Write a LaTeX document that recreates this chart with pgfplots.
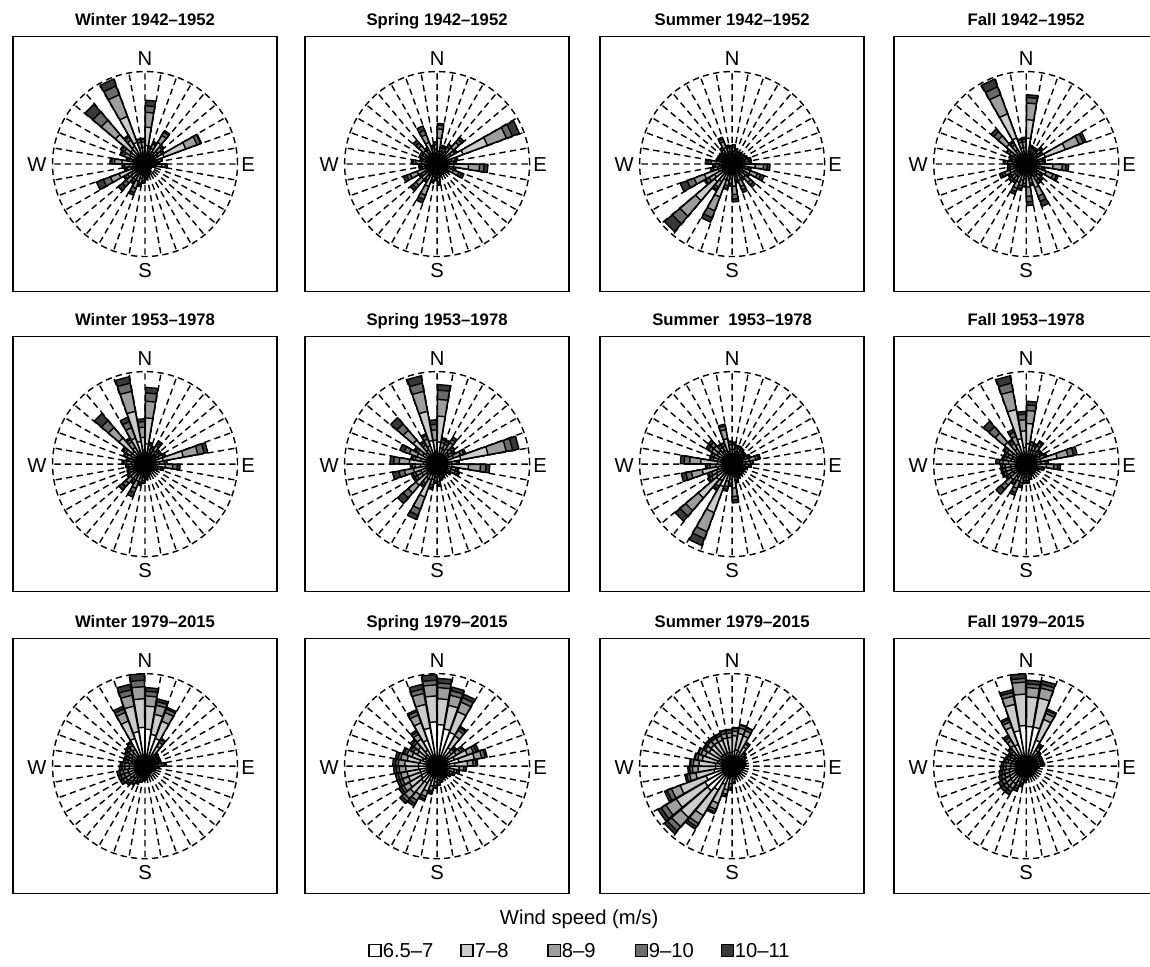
\documentclass[border=0pt]{standalone}
\usepackage{pgfplots}
\pgfplotsset{compat=1.18}
\usepackage{pgfplotstable}
\usepgfplotslibrary{polar}
\usepackage{fontspec}
\setmainfont{Liberation Sans}

\definecolor{cA}{gray}{1.00}
\definecolor{cB}{gray}{0.80}
\definecolor{cC}{gray}{0.62}
\definecolor{cD}{gray}{0.42}
\definecolor{cE}{gray}{0.22}

% ---- Winter 1942-1952
\pgfplotstableread{
d a b c e f
5 2.0 2.0 1.6 0.7 0.6
15 0.8 0.6 0.4 0.2 0
25 1.0 0.8 0.5 0.2 0.1
35 1.5 1.2 0.9 0.4 0.2
45 1.0 0.8 0.6 0.2 0.1
55 0.9 0.7 0.5 0.2 0.1
65 2.2 2.5 1.3 0.4 0.1
75 0.8 0.6 0.4 0.1 0
85 0.7 0.5 0.3 0.1 0
95 1.0 0.8 0.4 0.2 0
105 0.5 0.4 0.2 0 0
115 0.4 0.3 0.1 0 0
125 0.4 0.3 0.1 0 0
135 0.4 0.3 0.1 0 0
145 0.5 0.3 0.2 0 0
155 0.5 0.4 0.2 0.1 0
165 0.6 0.4 0.3 0.1 0
175 0.7 0.5 0.3 0.1 0.1
185 0.8 0.6 0.4 0.2 0.1
195 0.9 0.7 0.5 0.2 0.2
205 1.0 1.0 0.8 0.5 0.3
215 0.8 0.7 0.5 0.3 0.2
225 1.0 1.0 0.7 0.5 0.6
235 0.9 0.8 0.5 0.3 0.2
245 1.5 1.5 1.0 0.8 0.8
255 0.8 0.7 0.5 0.2 0.1
265 0.9 0.8 0.5 0.2 0.1
275 1.2 1.3 0.8 0.3 0.2
285 0.8 0.6 0.4 0.2 0.1
295 1.0 0.8 0.6 0.3 0.2
305 1.0 0.9 0.7 0.3 0.2
315 2.0 2.2 2.0 1.2 1.1
325 1.2 1.0 0.8 0.4 0.2
335 2.5 3.0 2.5 1.0 0.8
345 1.0 0.8 0.6 0.3 0.1
355 1.0 0.8 0.6 0.3 0.1
}\tWa
% ---- Spring 1942-1952
\pgfplotstableread{
d a b c e f
5 1.4 1.4 1.0 0.4 0.2
15 0.8 0.6 0.4 0.2 0.1
25 0.8 0.6 0.4 0.2 0.1
35 0.9 0.7 0.5 0.3 0.1
45 1.2 1.1 0.8 0.4 0.3
55 0.9 0.8 0.5 0.2 0.1
65 3.0 2.8 2.2 0.7 0.8
75 0.9 0.7 0.4 0.2 0.1
85 0.8 0.6 0.4 0.2 0.1
95 1.8 1.6 1.2 0.5 0.4
105 0.8 0.6 0.4 0.2 0.1
115 1.0 0.9 0.6 0.3 0.3
125 0.6 0.5 0.3 0.1 0
135 0.5 0.4 0.2 0.1 0
145 0.5 0.4 0.2 0.1 0
155 0.5 0.4 0.2 0.1 0
165 0.6 0.4 0.3 0.1 0
175 0.8 0.7 0.4 0.2 0.2
185 0.7 0.5 0.3 0.2 0.1
195 0.8 0.6 0.4 0.2 0.1
205 1.3 1.3 1.0 0.5 0.4
215 0.8 0.7 0.5 0.2 0.1
225 1.1 1.1 0.8 0.4 0.4
235 0.8 0.7 0.5 0.2 0.1
245 1.2 1.1 0.8 0.4 0.4
255 0.7 0.6 0.4 0.2 0.1
265 0.7 0.6 0.4 0.2 0.1
275 0.9 0.8 0.6 0.3 0.2
285 0.7 0.5 0.4 0.2 0.1
295 0.8 0.6 0.4 0.2 0.1
305 0.8 0.6 0.4 0.2 0.1
315 1.0 0.9 0.7 0.4 0.4
325 0.8 0.6 0.4 0.2 0.1
335 1.3 1.2 0.9 0.5 0.5
345 0.8 0.6 0.4 0.2 0.1
355 0.9 0.7 0.5 0.2 0.1
}\tSpa
% ---- Summer 1942-1952
\pgfplotstableread{
d a b c e f
5 0.8 0.6 0.4 0.2 0.1
15 0.7 0.5 0.3 0.1 0.1
25 0.6 0.5 0.3 0.1 0
35 0.6 0.5 0.3 0.1 0
45 0.6 0.5 0.3 0.1 0
55 0.7 0.5 0.3 0.1 0
65 0.7 0.6 0.3 0.1 0.1
75 0.8 0.6 0.4 0.2 0.1
85 0.8 0.6 0.4 0.2 0.1
95 1.3 1.2 0.9 0.4 0.3
105 0.8 0.6 0.4 0.2 0.1
115 1.1 1.0 0.8 0.4 0.4
125 0.8 0.7 0.4 0.2 0.1
135 1.0 0.9 0.7 0.4 0.3
145 0.8 0.6 0.4 0.2 0.1
155 1.0 0.9 0.7 0.4 0.3
165 0.8 0.6 0.4 0.2 0.1
175 1.2 1.2 0.9 0.5 0.3
185 0.9 0.7 0.5 0.2 0.1
195 1.0 0.8 0.6 0.3 0.1
205 1.8 2.0 1.6 0.8 0.5
215 1.2 1.0 0.7 0.3 0.2
225 2.5 2.7 2.2 1.1 1.1
235 1.2 1.0 0.7 0.4 0.2
245 1.6 1.6 1.2 0.8 0.8
255 0.9 0.7 0.5 0.2 0.1
265 0.8 0.6 0.4 0.2 0.1
275 0.9 0.8 0.6 0.3 0.3
285 0.7 0.5 0.3 0.2 0.1
295 0.7 0.5 0.3 0.1 0.1
305 0.7 0.5 0.3 0.1 0.1
315 0.7 0.5 0.3 0.1 0.1
325 0.8 0.6 0.4 0.2 0.1
335 1.0 0.9 0.7 0.3 0.2
345 0.8 0.6 0.4 0.2 0.1
355 0.7 0.6 0.4 0.2 0.1
}\tSua
% ---- Fall 1942-1952
\pgfplotstableread{
d a b c e f
5 2.8 2.0 1.8 0.6 0.3
15 0.8 0.6 0.4 0.2 0.1
25 0.7 0.6 0.4 0.2 0.1
35 0.7 0.6 0.4 0.2 0.1
45 0.9 0.7 0.5 0.2 0.1
55 0.8 0.6 0.4 0.2 0.1
65 2.2 2.3 1.6 0.5 0.3
75 0.8 0.6 0.4 0.2 0.1
85 0.8 0.6 0.4 0.2 0.1
95 1.5 1.4 1.0 0.4 0.3
105 0.8 0.6 0.4 0.2 0.1
115 1.2 1.1 0.8 0.4 0.2
125 0.8 0.6 0.4 0.2 0.1
135 0.9 0.7 0.5 0.2 0.1
145 0.9 0.7 0.5 0.3 0.1
155 1.4 1.3 1.0 0.6 0.6
165 0.9 0.7 0.5 0.2 0.1
175 1.3 1.2 1.0 0.6 0.4
185 0.9 0.7 0.5 0.3 0.1
195 1.0 0.8 0.6 0.3 0.2
205 1.1 1.0 0.7 0.4 0.3
215 0.9 0.7 0.5 0.2 0.1
225 0.9 0.7 0.5 0.3 0.1
235 0.8 0.7 0.5 0.2 0.1
245 1.0 0.9 0.6 0.3 0.3
255 0.8 0.6 0.4 0.2 0.1
265 0.7 0.6 0.4 0.2 0.1
275 0.8 0.7 0.5 0.3 0.2
285 0.7 0.5 0.4 0.2 0.1
295 0.7 0.6 0.4 0.2 0.1
305 0.9 0.7 0.5 0.3 0.1
315 1.4 1.4 1.2 0.6 0.4
325 1.0 0.8 0.6 0.3 0.2
335 3.0 2.8 2.2 0.9 0.9
345 1.0 0.8 0.6 0.3 0.1
355 1.0 0.8 0.6 0.3 0.2
}\tFa
% ---- Winter 1953-1978
\pgfplotstableread{
d a b c e f
5 2.2 2.8 1.8 0.9 0.6
15 0.9 0.7 0.5 0.2 0.1
25 0.8 0.6 0.4 0.2 0.1
35 0.9 0.8 0.6 0.3 0.3
45 0.8 0.6 0.4 0.2 0.1
55 0.8 0.6 0.4 0.2 0.1
65 0.9 0.7 0.5 0.2 0.1
75 2.0 2.2 1.6 0.7 0.4
85 0.9 0.7 0.5 0.2 0.1
95 1.1 1.1 0.8 0.5 0.3
105 0.8 0.6 0.4 0.2 0.1
115 0.6 0.5 0.3 0.1 0
125 0.5 0.4 0.2 0.1 0
135 0.5 0.3 0.2 0 0
145 0.5 0.3 0.2 0 0
155 0.5 0.4 0.2 0.1 0
165 0.6 0.4 0.3 0.1 0
175 0.7 0.5 0.3 0.1 0.1
185 0.8 0.6 0.4 0.2 0.1
195 0.8 0.7 0.5 0.2 0.2
205 1.0 1.0 0.8 0.5 0.5
215 0.8 0.7 0.5 0.3 0.2
225 1.0 1.0 0.7 0.5 0.5
235 0.8 0.7 0.5 0.2 0.1
245 0.8 0.6 0.4 0.2 0.1
255 0.7 0.6 0.4 0.2 0.1
265 0.8 0.6 0.4 0.2 0.1
275 0.8 0.7 0.5 0.3 0.2
285 0.8 0.6 0.4 0.2 0.1
295 0.9 0.7 0.5 0.3 0.1
305 1.0 0.8 0.6 0.3 0.2
315 1.8 1.9 1.5 1.0 1.0
325 1.1 1.0 0.7 0.3 0.2
335 1.5 1.5 1.2 0.7 0.5
345 2.5 3.3 2.2 0.9 0.7
355 1.5 1.4 1.1 0.6 0.3
}\tWb
% ---- Spring 1953-1978
\pgfplotstableread{
d a b c e f
5 2.4 2.8 1.8 1.0 0.6
15 1.0 0.8 0.6 0.3 0.2
25 0.9 0.8 0.6 0.3 0.2
35 1.0 0.9 0.8 0.4 0.3
45 0.9 0.7 0.5 0.3 0.1
55 0.8 0.7 0.5 0.2 0.1
65 1.0 0.9 0.8 0.4 0.2
75 2.6 3.0 2.0 0.7 0.7
85 0.9 0.7 0.5 0.2 0.1
95 1.6 1.8 1.3 0.6 0.4
105 0.9 0.7 0.5 0.2 0.1
115 0.9 0.7 0.5 0.3 0.2
125 0.7 0.5 0.3 0.2 0.1
135 0.6 0.4 0.3 0.1 0
145 0.6 0.4 0.3 0.1 0
155 0.6 0.5 0.3 0.1 0.1
165 0.7 0.5 0.3 0.2 0.1
175 0.8 0.6 0.5 0.3 0.2
185 0.8 0.6 0.4 0.2 0.1
195 0.9 0.8 0.6 0.3 0.2
205 1.8 2.0 1.4 0.7 0.5
215 1.0 0.8 0.6 0.3 0.2
225 1.5 1.5 1.1 0.7 0.8
235 1.0 0.9 0.6 0.3 0.2
245 1.0 0.9 0.6 0.3 0.2
255 1.3 1.3 1.0 0.6 0.7
265 1.0 0.8 0.6 0.3 0.2
275 1.5 1.5 1.1 0.6 0.4
285 1.0 0.8 0.6 0.3 0.2
295 1.2 1.1 0.9 0.6 0.5
305 1.0 0.8 0.6 0.3 0.2
315 1.6 1.8 1.4 0.9 0.9
325 1.0 0.8 0.6 0.3 0.2
335 1.1 1.0 0.8 0.4 0.2
345 2.6 3.2 2.2 0.9 0.8
355 1.3 1.3 1.1 0.6 0.5
}\tSpb
% ---- Summer 1953-1978
\pgfplotstableread{
d a b c e f
5 0.9 0.7 0.5 0.2 0.1
15 0.8 0.6 0.4 0.2 0.1
25 0.8 0.6 0.4 0.2 0.1
35 0.7 0.6 0.4 0.2 0.1
45 0.7 0.5 0.3 0.2 0.1
55 0.7 0.5 0.3 0.2 0.1
65 0.8 0.6 0.4 0.2 0.1
75 1.0 0.9 0.7 0.3 0.2
85 0.8 0.7 0.5 0.2 0.1
95 0.8 0.6 0.4 0.2 0.1
105 0.7 0.5 0.3 0.1 0.1
115 0.6 0.5 0.3 0.1 0
125 0.6 0.5 0.3 0.1 0
135 0.6 0.5 0.3 0.1 0
145 0.6 0.5 0.3 0.1 0
155 0.7 0.5 0.3 0.1 0.1
165 0.8 0.6 0.4 0.2 0.1
175 1.3 1.3 0.9 0.4 0.3
185 0.9 0.7 0.5 0.2 0.1
195 1.0 0.9 0.6 0.3 0.2
205 2.6 3.0 2.2 0.8 0.8
215 1.1 1.0 0.7 0.3 0.2
225 2.2 2.6 1.8 0.8 0.7
235 1.1 0.9 0.6 0.3 0.2
245 1.0 0.8 0.6 0.3 0.2
255 1.6 1.7 1.2 0.6 0.5
265 1.0 0.8 0.6 0.3 0.2
275 1.6 1.8 1.2 0.6 0.4
285 0.9 0.7 0.5 0.3 0.1
295 0.9 0.7 0.5 0.3 0.1
305 1.0 0.9 0.7 0.4 0.3
315 1.0 0.9 0.7 0.5 0.3
325 0.9 0.7 0.5 0.3 0.1
335 0.9 0.7 0.5 0.3 0.1
345 1.4 1.4 1.0 0.4 0.2
355 0.9 0.7 0.5 0.3 0.1
}\tSub
% ---- Fall 1953-1978
\pgfplotstableread{
d a b c e f
5 2.2 2.2 1.4 0.6 0.4
15 0.9 0.7 0.5 0.3 0.1
25 0.9 0.7 0.5 0.2 0.1
35 0.9 0.8 0.6 0.4 0.2
45 0.8 0.6 0.4 0.2 0.1
55 0.8 0.6 0.4 0.2 0.1
65 0.9 0.7 0.5 0.2 0.1
75 1.6 1.8 1.2 0.6 0.4
85 0.9 0.7 0.5 0.2 0.1
95 1.1 1.1 0.8 0.4 0.3
105 0.7 0.6 0.4 0.2 0.1
115 0.6 0.5 0.3 0.1 0
125 0.5 0.4 0.2 0.1 0
135 0.5 0.4 0.2 0.1 0
145 0.5 0.4 0.2 0.1 0
155 0.6 0.4 0.3 0.1 0
165 0.7 0.5 0.3 0.1 0.1
175 0.8 0.6 0.4 0.2 0.1
185 0.8 0.6 0.4 0.2 0.1
195 0.9 0.7 0.5 0.3 0.2
205 1.0 1.0 0.8 0.5 0.3
215 0.9 0.7 0.5 0.3 0.2
225 1.1 1.1 0.8 0.6 0.7
235 0.9 0.7 0.5 0.3 0.2
245 0.9 0.8 0.6 0.3 0.2
255 0.9 0.8 0.6 0.3 0.2
265 0.9 0.8 0.6 0.3 0.2
275 1.0 0.9 0.6 0.4 0.4
285 0.9 0.8 0.5 0.3 0.2
295 0.9 0.7 0.5 0.3 0.2
305 1.0 0.8 0.6 0.3 0.2
315 1.5 1.6 1.3 0.9 0.8
325 1.0 0.9 0.7 0.3 0.2
335 1.2 1.1 0.9 0.5 0.3
345 2.8 3.2 2.0 0.9 0.8
355 1.8 1.8 1.2 0.6 0.3
}\tFb
% ---- Winter 1979-2015
\pgfplotstableread{
d a b c e f
5 4.0 2.5 1.1 0.5 0.4
15 3.5 2.2 1.0 0.4 0.3
25 3.2 2.0 1.0 0.4 0.2
35 1.5 1.0 0.5 0.3 0.2
45 0.8 0.5 0.3 0.2 0.1
55 0.7 0.5 0.3 0.2 0.1
65 0.7 0.5 0.3 0.2 0.1
75 0.7 0.5 0.3 0.2 0.1
85 0.8 0.6 0.4 0.3 0.2
95 0.6 0.4 0.3 0.2 0.1
105 0.5 0.3 0.2 0.1 0.1
115 0.4 0.3 0.2 0.1 0.1
125 0.4 0.2 0.2 0.1 0.1
135 0.4 0.2 0.2 0.1 0.1
145 0.4 0.2 0.2 0.1 0.1
155 0.4 0.3 0.2 0.1 0.1
165 0.5 0.3 0.2 0.1 0.1
175 0.5 0.4 0.3 0.2 0.1
185 0.6 0.4 0.3 0.2 0.1
195 0.7 0.5 0.3 0.2 0.1
205 0.8 0.5 0.4 0.2 0.2
215 0.9 0.6 0.4 0.3 0.2
225 1.0 0.7 0.5 0.3 0.2
235 1.1 0.8 0.5 0.4 0.3
245 1.1 0.8 0.5 0.4 0.3
255 1.1 0.8 0.5 0.4 0.3
265 1.0 0.7 0.5 0.3 0.3
275 1.0 0.7 0.5 0.3 0.2
285 0.9 0.6 0.4 0.3 0.2
295 0.9 0.6 0.4 0.3 0.2
305 1.0 0.7 0.4 0.3 0.2
315 1.1 0.7 0.5 0.3 0.2
325 1.3 0.8 0.5 0.3 0.2
335 3.2 2.0 1.0 0.4 0.3
345 3.8 2.8 1.2 0.6 0.6
355 4.2 3.1 1.3 0.7 0.7
}\tWc
% ---- Spring 1979-2015
\pgfplotstableread{
d a b c e f
5 4.5 2.8 1.2 0.5 0.5
15 4.1 2.6 1.1 0.5 0.4
25 3.9 2.4 1.1 0.5 0.4
35 2.3 1.5 0.7 0.3 0.2
45 1.2 0.8 0.4 0.2 0.2
55 1.4 1.0 0.5 0.3 0.2
65 2.0 1.5 0.7 0.3 0.3
75 2.4 1.7 0.8 0.4 0.2
85 1.9 1.4 0.6 0.3 0.2
95 1.4 1.0 0.5 0.2 0.1
105 1.1 0.8 0.3 0.2 0.1
115 0.9 0.6 0.3 0.2 0.1
125 0.8 0.5 0.3 0.1 0.1
135 0.7 0.4 0.2 0.1 0.1
145 0.7 0.4 0.2 0.1 0.1
155 0.7 0.5 0.2 0.1 0.1
165 0.8 0.5 0.3 0.1 0.1
175 0.9 0.6 0.3 0.2 0.1
185 1.0 0.7 0.4 0.2 0.1
195 1.3 0.9 0.5 0.2 0.2
205 1.7 1.2 0.6 0.3 0.2
215 2.1 1.5 0.7 0.4 0.3
225 2.2 1.6 0.8 0.4 0.3
235 2.0 1.5 0.7 0.3 0.3
245 1.9 1.4 0.7 0.3 0.3
255 1.9 1.4 0.7 0.3 0.3
265 2.0 1.4 0.7 0.3 0.3
275 2.0 1.5 0.7 0.3 0.3
285 1.9 1.4 0.7 0.3 0.3
295 1.7 1.2 0.6 0.3 0.2
305 1.5 1.0 0.5 0.3 0.2
315 1.6 1.1 0.6 0.3 0.2
325 2.0 1.4 0.6 0.3 0.2
335 3.0 2.0 0.9 0.4 0.2
345 4.2 2.6 1.2 0.5 0.5
355 4.8 2.8 1.2 0.5 0.6
}\tSpc
% ---- Summer 1979-2015
\pgfplotstableread{
d a b c e f
5 1.6 1.7 0.5 0.3 0.1
15 1.8 1.8 0.6 0.3 0.1
25 1.7 1.8 0.6 0.3 0.1
35 1.2 1.2 0.4 0.2 0.0
45 0.8 0.7 0.3 0.1 0.1
55 0.7 0.6 0.3 0.1 0.1
65 0.6 0.5 0.2 0.1 0.1
75 0.6 0.5 0.2 0.1 0.1
85 0.6 0.5 0.2 0.1 0.1
95 0.5 0.4 0.2 0.1 0.1
105 0.5 0.3 0.2 0.1 0.1
115 0.4 0.3 0.2 0.1 0.1
125 0.4 0.3 0.2 0.1 0.1
135 0.4 0.3 0.2 0.1 0.1
145 0.4 0.3 0.2 0.1 0.1
155 0.5 0.3 0.2 0.1 0.1
165 0.6 0.4 0.2 0.1 0.1
175 0.8 0.6 0.3 0.1 0.1
185 1.0 0.9 0.4 0.2 0.1
195 1.3 1.3 0.5 0.2 0.1
205 2.1 2.2 0.7 0.3 0.2
215 3.0 3.2 1.0 0.4 0.3
225 3.5 3.8 1.3 0.6 0.4
235 3.4 3.6 1.3 0.6 0.4
245 3.0 3.0 1.0 0.5 0.3
255 2.0 2.0 0.7 0.3 0.2
265 1.8 1.9 0.6 0.3 0.2
275 1.8 1.8 0.6 0.3 0.1
285 1.6 1.7 0.5 0.3 0.1
295 1.5 1.6 0.5 0.3 0.1
305 1.4 1.5 0.5 0.2 0.1
315 1.5 1.5 0.5 0.2 0.1
325 1.5 1.5 0.5 0.2 0.1
335 1.5 1.5 0.5 0.2 0.1
345 1.5 1.6 0.5 0.3 0.1
355 1.5 1.6 0.5 0.3 0.1
}\tSuc
% ---- Fall 1979-2015
\pgfplotstableread{
d a b c e f
5 4.3 3.2 1.0 0.4 0.4
15 4.3 3.2 1.1 0.4 0.4
25 3.0 2.4 0.7 0.3 0.2
35 1.2 0.8 0.4 0.2 0.2
45 0.9 0.6 0.3 0.2 0.1
55 0.8 0.5 0.3 0.2 0.1
65 0.8 0.5 0.3 0.2 0.1
75 0.8 0.5 0.3 0.2 0.1
85 0.8 0.5 0.3 0.2 0.2
95 0.6 0.4 0.2 0.1 0.1
105 0.5 0.3 0.2 0.1 0.1
115 0.4 0.3 0.2 0.1 0.1
125 0.4 0.3 0.2 0.1 0.1
135 0.4 0.3 0.2 0.1 0.1
145 0.4 0.3 0.2 0.1 0.1
155 0.5 0.3 0.2 0.1 0.1
165 0.5 0.3 0.2 0.1 0.1
175 0.6 0.4 0.2 0.2 0.1
185 0.7 0.5 0.3 0.2 0.1
195 0.9 0.6 0.4 0.2 0.2
205 1.1 0.7 0.5 0.3 0.3
215 1.3 0.9 0.6 0.4 0.4
225 1.3 0.9 0.6 0.4 0.4
235 1.2 0.9 0.6 0.4 0.4
245 1.2 0.8 0.5 0.4 0.3
255 1.1 0.8 0.5 0.3 0.3
265 1.0 0.7 0.5 0.3 0.3
275 1.0 0.7 0.5 0.3 0.2
285 0.9 0.7 0.4 0.3 0.2
295 0.9 0.6 0.4 0.3 0.2
305 0.9 0.6 0.4 0.2 0.2
315 1.0 0.7 0.4 0.3 0.2
325 1.5 1.1 0.6 0.4 0.3
335 2.5 2.0 0.6 0.3 0.2
345 3.9 2.9 0.9 0.4 0.3
355 4.4 3.4 1.3 0.4 0.5
}\tFc

\newcommand\rhw{4.6}
\newcommand\buildrose[1]{%
  \gdef\lsA{}\gdef\lsB{}\gdef\lsC{}\gdef\lsD{}\gdef\lsE{}%
  \pgfplotstablegetrowsof{#1}%
  \pgfmathtruncatemacro\nrows{\pgfplotsretval-1}%
  \foreach \i in {0,...,\nrows}{%
    \pgfplotstablegetelem{\i}{d}\of{#1}\let\vd\pgfplotsretval
    \pgfplotstablegetelem{\i}{a}\of{#1}\let\va\pgfplotsretval
    \pgfplotstablegetelem{\i}{b}\of{#1}\let\vb\pgfplotsretval
    \pgfplotstablegetelem{\i}{c}\of{#1}\let\vc\pgfplotsretval
    \pgfplotstablegetelem{\i}{e}\of{#1}\let\ve\pgfplotsretval
    \pgfplotstablegetelem{\i}{f}\of{#1}\let\vf\pgfplotsretval
    \pgfmathsetmacro\sA{\va}%
    \pgfmathsetmacro\sB{\sA+\vb}%
    \pgfmathsetmacro\sC{\sB+\vc}%
    \pgfmathsetmacro\sD{\sC+\ve}%
    \pgfmathsetmacro\sE{\sD+\vf}%
    \pgfmathsetmacro\aL{90-\vd-\rhw}%
    \pgfmathsetmacro\aR{90-\vd+\rhw}%
    \xdef\lsA{\lsA (\aL,0) (\aL,\sA) (\aR,\sA) (\aR,0)}%
    \xdef\lsB{\lsB (\aL,0) (\aL,\sB) (\aR,\sB) (\aR,0)}%
    \xdef\lsC{\lsC (\aL,0) (\aL,\sC) (\aR,\sC) (\aR,0)}%
    \xdef\lsD{\lsD (\aL,0) (\aL,\sD) (\aR,\sD) (\aR,0)}%
    \xdef\lsE{\lsE (\aL,0) (\aL,\sE) (\aR,\sE) (\aR,0)}%
  }%
}

\pgfplotsset{
  rosestyle/.style={
    width=3.7cm, height=3.7cm, scale only axis,
    xmin=0, xmax=360, ymin=0, ymax=10,
    xtick={0,10,...,350}, xticklabel=\empty, ytick=\empty,
    xmajorgrids,
    major grid style={black, line width=0.8pt, dash pattern=on 3.6pt off 2.4pt},
    axis line style={black, line width=0.8pt, dash pattern=on 3.6pt off 2.4pt},
    y axis line style={draw=none},
    major tick length=0pt, clip=false,
  },
  rosewedge/.style={draw=black, line width=0.8pt, line join=round},
}

\newcommand\rosepanel[4]{%
  \buildrose{#1}%
  \draw[line width=0.8pt] ({(#2-132)*0.02cm},{-(#3-127.5)*0.02cm}) rectangle ({(#2+132)*0.02cm},{-(#3+127.5)*0.02cm});
  \node[anchor=base, font=\bfseries\fontsize{9.5}{11}\selectfont] at ({#2*0.02cm},{-(#3-139)*0.02cm}) {#4};
  \begin{polaraxis}[rosestyle, at={({#2*0.02cm},{-#3*0.02cm})}, anchor=center]
    \edef\tmp{\noexpand\addplot[rosewedge,fill=cE] coordinates {\lsE};}\tmp
    \edef\tmp{\noexpand\addplot[rosewedge,fill=cD] coordinates {\lsD};}\tmp
    \edef\tmp{\noexpand\addplot[rosewedge,fill=cC] coordinates {\lsC};}\tmp
    \edef\tmp{\noexpand\addplot[rosewedge,fill=cB] coordinates {\lsB};}\tmp
    \edef\tmp{\noexpand\addplot[rosewedge,fill=cA] coordinates {\lsA};}\tmp
  \end{polaraxis}
  \node[font=\fontsize{11.5}{13}\selectfont] at ({#2*0.02cm},{-(#3-105.5)*0.02cm}) {N};
  \node[font=\fontsize{11.5}{13}\selectfont] at ({#2*0.02cm},{-(#3+106.5)*0.02cm}) {S};
  \node[font=\fontsize{11.5}{13}\selectfont] at ({(#2-108)*0.02cm},{-(#3+1)*0.02cm}) {W};
  \node[font=\fontsize{11.5}{13}\selectfont] at ({(#2+103)*0.02cm},{-(#3+1)*0.02cm}) {E};
}

\begin{document}
\begin{tikzpicture}
\useasboundingbox (0,0) rectangle (23cm,-19.34cm);
\rosepanel{\tWa}{145}{164}{Winter 1942--1952}
\rosepanel{\tSpa}{437}{164}{Spring 1942--1952}
\rosepanel{\tSua}{732}{164}{Summer 1942--1952}
\rosepanel{\tFa}{1026}{164}{Fall 1942--1952}
\rosepanel{\tWb}{145}{464}{Winter 1953--1978}
\rosepanel{\tSpb}{437}{464}{Spring 1953--1978}
\rosepanel{\tSub}{732}{464}{Summer\ \ 1953--1978}
\rosepanel{\tFb}{1026}{464}{Fall 1953--1978}
\rosepanel{\tWc}{145}{766}{Winter 1979--2015}
\rosepanel{\tSpc}{437}{766}{Spring 1979--2015}
\rosepanel{\tSuc}{732}{766}{Summer 1979--2015}
\rosepanel{\tFc}{1026}{766}{Fall 1979--2015}
% legend
\begin{scope}[x=0.02cm, y=-0.02cm]
\node[font=\fontsize{11.5}{13}\selectfont] at (579,919) {Wind speed (m/s)};
\foreach \xx/\cc/\lab in {369/cA/6.5--7, 461/cB/7--8, 548/cC/8--9, 635/cD/9--10, 721/cE/10--11}{
  \draw[fill=\cc, line width=0.7pt] (\xx,944.5) rectangle (\xx+12,956.5);
  \node[anchor=west, inner sep=0.8pt, font=\fontsize{11.5}{14}\selectfont] at (\xx+12,950.5) {\lab};
}
\end{scope}
\end{tikzpicture}
\end{document}
